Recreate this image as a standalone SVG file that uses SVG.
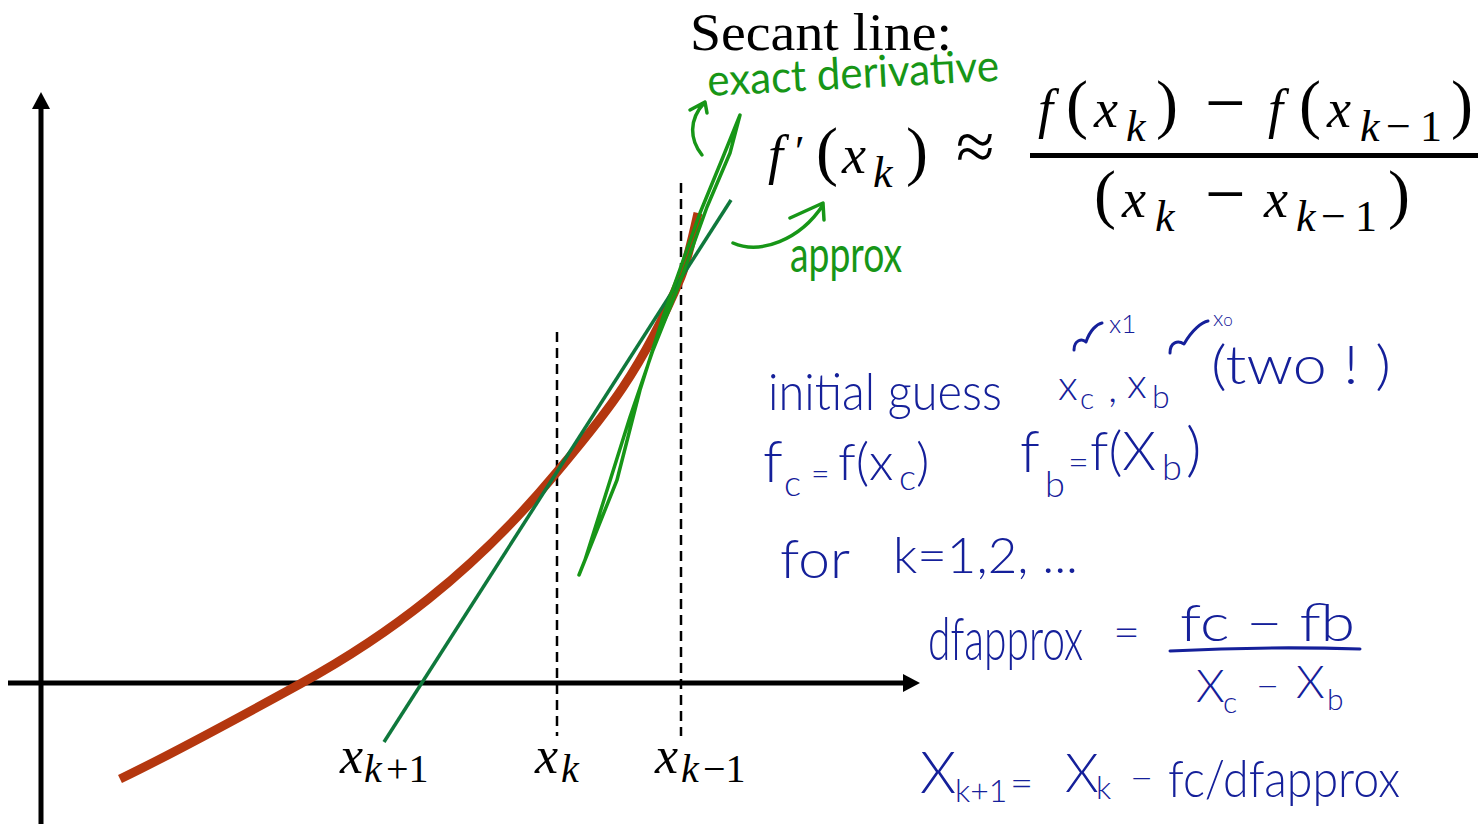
<svg xmlns="http://www.w3.org/2000/svg" width="1481" height="824" viewBox="0 0 1481 824">
<defs>
<style>
.ax{stroke:#000;stroke-width:5;fill:none}
.dash{stroke:#000;stroke-width:2.5;stroke-dasharray:10 6;fill:none}
.m{font-family:"Liberation Serif",serif;font-style:italic;font-size:54px;fill:#000}
.up{font-style:normal}
.p{font-style:normal;font-size:66px}
.s{font-size:44px}
.g{font-family:Lato,"Open Sans",sans-serif;font-weight:400;fill:#179617}
.gs{stroke:#179617;stroke-width:3.5;fill:none;stroke-linecap:round;stroke-linejoin:round}
.b{font-family:Lato,"Open Sans",sans-serif;font-weight:300;fill:#15209a}
.bs{stroke:#15209a;stroke-width:3;fill:none;stroke-linecap:round;stroke-linejoin:round}
</style>
</defs>
<rect width="1481" height="824" fill="#fff"/>

<g id="axes">
<line class="ax" x1="41" y1="824" x2="41" y2="104"/>
<polygon points="41,92 32,109 50,109" fill="#000"/>
<line class="ax" x1="8" y1="683" x2="906" y2="683"/>
<polygon points="920,683 903,674 903,692" fill="#000"/>
</g>

<g id="guides">
<line class="dash" x1="557" y1="332" x2="557" y2="736"/>
<line class="dash" x1="681" y1="183" x2="681" y2="736"/>
</g>

<g id="function-curve">
<path d="M120,779 C180,750 240,717 300,684 C385.7,636.9 471.3,574.8 557,472 C598.3,422.4 639.7,376.1 681,277 C686.7,263.4 692.3,238.5 698,213" stroke="#b4370f" stroke-width="9" fill="none"/>
</g>

<g id="secant-line">
<line x1="384" y1="742" x2="731" y2="200" stroke="#0f783c" stroke-width="3.5"/>
</g>

<g id="tangent-sketch">
<path class="gs" d="M579,575 L617,480 L640,390 L663,317 L700,213 L723,157 L740,115 L730,153 L707,207 L677,290 L653,350 L630,417 L603,503 L585,560"/>
</g>

<g id="axis-labels">
<text class="m" style="font-size:52px"><tspan x="340" y="773">x</tspan><tspan class="s" style="font-size:40px" x="364" y="782">k</tspan><tspan class="s up" style="font-size:40px" x="386" y="782">+1</tspan></text>
<text class="m" style="font-size:52px"><tspan x="535" y="773">x</tspan><tspan class="s" style="font-size:40px" x="561" y="782">k</tspan></text>
<text class="m" style="font-size:52px"><tspan x="655" y="773">x</tspan><tspan class="s" style="font-size:40px" x="681" y="782">k</tspan><tspan class="s up" style="font-size:40px" x="703" y="782">−1</tspan></text>
</g>

<g id="title">
<text x="690" y="50" font-family="'Liberation Serif',serif" font-size="53" textLength="262" lengthAdjust="spacingAndGlyphs" fill="#000">Secant line:</text>
</g>

<g id="formula">
<text class="m"><tspan x="768" y="173">f</tspan><tspan class="up" x="795" y="166" style="font-size:44px">′</tspan><tspan class="p" x="816" y="173">(</tspan><tspan x="842" y="173">x</tspan><tspan class="s" x="873" y="187">k</tspan><tspan class="p" x="906" y="173">)</tspan><tspan class="up" x="956" y="170" style="font-size:70px">≈</tspan></text>
<text class="m"><tspan x="1038" y="127">f</tspan><tspan class="p" x="1066" y="126">(</tspan><tspan x="1094" y="127">x</tspan><tspan class="s" x="1126" y="141">k</tspan><tspan class="p" x="1156" y="126">)</tspan><tspan class="up" x="1205" y="127" style="font-size:72px">−</tspan><tspan x="1268" y="127">f</tspan><tspan class="p" x="1299" y="126">(</tspan><tspan x="1327" y="127">x</tspan><tspan class="s" x="1360" y="141">k</tspan><tspan class="up s" x="1386" y="141">−</tspan><tspan class="up s" x="1420" y="141">1</tspan><tspan class="p" x="1451" y="126">)</tspan></text>
<rect x="1030" y="153" width="448" height="5" fill="#000"/>
<text class="m"><tspan class="p" x="1094" y="216">(</tspan><tspan x="1122" y="217">x</tspan><tspan class="s" x="1155" y="231">k</tspan><tspan class="up" x="1205" y="218" style="font-size:72px">−</tspan><tspan x="1264" y="217">x</tspan><tspan class="s" x="1296" y="231">k</tspan><tspan class="up s" x="1321" y="231">−</tspan><tspan class="up s" x="1355" y="231">1</tspan><tspan class="p" x="1388" y="216">)</tspan></text>
</g>

<g id="annotations-green">
<text class="g" x="708" y="96" font-size="44" textLength="292" lengthAdjust="spacingAndGlyphs" transform="rotate(-3 708 96)">exact derivative</text>
<path class="gs" d="M702,155 C690,140 688,120 705,102 M690,110 L705,102 L707,113"/>
<path class="gs" stroke-width="4" d="M733,243 C760,255 800,240 823,205 M790,218 L823,203 L824,220"/>
<text class="g" x="790" y="272" font-size="50" textLength="112" lengthAdjust="spacingAndGlyphs">approx</text>
</g>

<g id="notes">
<text class="b" x="768" y="410" font-size="52" textLength="234" lengthAdjust="spacingAndGlyphs">initial guess</text>
<text class="b" font-size="42"><tspan x="1058" y="400">x</tspan><tspan x="1080" y="409" font-size="30">c</tspan><tspan x="1108" y="402">,</tspan><tspan x="1127" y="398">x</tspan><tspan x="1152" y="408" font-size="32">b</tspan></text>
<path class="bs" d="M1074,350 C1074,340 1082,338 1086,342 C1090,330 1097,324 1102,323"/>
<text class="b" x="1109" y="333" font-size="26">x1</text>
<path class="bs" d="M1170,353 C1170,342 1178,340 1184,344 C1192,330 1202,322 1208,321"/>
<text class="b" x="1213" y="326" font-size="22">x<tspan font-size="17">o</tspan></text>
<text class="b" x="1211" y="384" font-size="54" textLength="180" lengthAdjust="spacingAndGlyphs">(two ! )</text>
<text class="b"><tspan x="763" y="482" font-size="58">f</tspan><tspan x="784" y="496" font-size="36">c</tspan><tspan x="811" y="485" font-size="32">=</tspan><tspan x="838" y="480" font-size="52">f(x</tspan><tspan x="899" y="490" font-size="36">c</tspan><tspan x="916" y="480" font-size="52">)</tspan></text>
<text class="b"><tspan x="1020" y="472" font-size="58">f</tspan><tspan x="1045" y="497" font-size="36">b</tspan><tspan x="1068" y="475" font-size="36">=</tspan><tspan x="1090" y="470" font-size="54">f(X</tspan><tspan x="1162" y="480" font-size="36">b</tspan><tspan x="1186" y="470" font-size="60">)</tspan></text>
<text class="b" x="780" y="578" font-size="54" textLength="70" lengthAdjust="spacingAndGlyphs">for</text>
<text class="b" x="893" y="573" font-size="50" textLength="185" lengthAdjust="spacingAndGlyphs">k=1,2, ...</text>
<text class="b" font-size="60" transform="translate(928 660) scale(0.68 1)">dfapprox</text>
<text class="b" x="1113" y="648" font-size="44" textLength="27" lengthAdjust="spacingAndGlyphs">=</text>
<text class="b" x="1180" y="641" font-size="52" textLength="175" lengthAdjust="spacingAndGlyphs">fc − fb</text>
<path class="bs" d="M1170,651 Q1265,646 1360,649"/>
<text class="b"><tspan x="1196" y="702" font-size="46">X</tspan><tspan x="1223" y="713" font-size="30">c</tspan><tspan x="1256" y="700" font-size="40">−</tspan><tspan x="1296" y="698" font-size="46">X</tspan><tspan x="1327" y="710" font-size="30">b</tspan></text>
<text class="b"><tspan x="920" y="793" font-size="58">X</tspan><tspan x="955" y="802" font-size="32">k+1</tspan><tspan x="1010" y="797" font-size="40">=</tspan><tspan x="1065" y="792" font-size="54">X</tspan><tspan x="1096" y="799" font-size="32">k</tspan><tspan x="1130" y="792" font-size="40">−</tspan></text>
<text class="b" x="1168" y="797" font-size="52" textLength="232" lengthAdjust="spacingAndGlyphs">fc/dfapprox</text>
</g>
</svg>
